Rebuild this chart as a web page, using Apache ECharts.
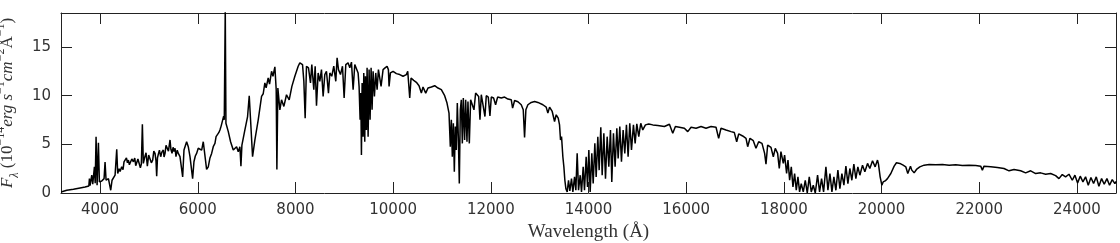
<!DOCTYPE html>
<html>
<head>
<meta charset="utf-8">
<script src="https://cdn.jsdelivr.net/npm/echarts@6/dist/echarts.min.js"></script>
<style>
  html, body { margin: 0; padding: 0; background: #fff; }
  #chart { width: 1120px; height: 243px; }
</style>
</head>
<body>
<div id="chart"></div>
<script>
// spectrum, [wavelength (Å), flux (1e-14 erg/s/cm2/Å)]
const opticalBlue = [
  [3202,0.11],[3318,0.28],[3455,0.38],[3591,0.52],[3693,0.62],[3770,0.72],[3782,1.48],[3795,0.75],
  [3809,0.8],[3830,1.83],[3850,0.9],[3864,0.97],[3884,2.69],[3900,1.0],[3918,5.79],[3939,0.8],
  [3966,5.17],[3986,1.14],[4034,1.24],[4082,1.48],[4102,3.17],[4123,1.31],[4171,1.48],[4218,0.28],
  [4245,1.31],[4307,1.83],[4341,4.49],[4361,2.0],[4390,2.5],[4410,2.2],[4443,2.69],[4470,2.4],
  [4490,3.2],[4511,3.04],[4540,3.6],[4560,3.1],[4580,3.38],[4600,2.9],[4627,2.86],[4650,3.5],
  [4682,3.21],[4710,3.6],[4730,2.8],[4750,2.86],[4775,3.5],[4805,3.38],[4825,2.6],[4845,2.97],
  [4866,7.07],[4886,3.04],[4910,3.6],[4941,4.14],[4968,2.76],[4995,3.9],[5023,3.73],[5050,3.1],
  [5077,3.38],[5100,4.3],[5125,4.07],[5145,3.3],[5159,1.73],[5175,3.6],[5193,4.0],[5215,4.4],
  [5241,3.73],[5265,4.2],[5295,4.42],[5310,3.7],[5330,4.07],[5350,4.9],[5377,4.76],[5400,4.3],
  [5432,5.45],[5450,4.5],[5473,4.07],[5495,4.7],[5514,4.25],[5535,4.6],[5554,3.73],[5580,4.4],
  [5602,4.07]
];
const opticalRed = [
  [5636,3.73],[5691,1.66],[5718,4.42],[5772,5.27],[5806,4.76],[5841,3.73],[5895,1.48],[5922,3.21],
  [5950,3.8],[5977,4.07],[6010,4.6],[6045,4.76],[6080,4.4],[6113,5.27],[6147,5.38],[6181,2.42],
  [6215,2.69],[6250,3.6],[6284,4.07],[6320,4.8],[6352,5.1],[6375,5.8],[6400,5.62],[6430,6.2],
  [6454,6.48],[6480,6.9],[6509,7.0],[6530,7.9],[6543,7.52],[6563,19],[6577,7.17],[6625,6.31],
  [6672,5.27],[6727,4.42],[6795,4.76],[6829,4.25],[6863,4.76],[6884,2.76],[6904,4.93],[6965,6.48],
  [7020,7.86],[7054,9.99],[7081,7.52],[7122,3.73],[7170,5.45],[7238,7.52],[7306,9.93],[7340,10.2],
  [7374,11.31],[7400,10.8],[7442,11.82],[7470,11.2],[7511,12.51],[7540,12.0],[7579,12.96],[7606,10.62],
  [7620,2.42],[7640,10.79],[7681,8.55],[7715,9.58],[7763,8.9],[7817,10.1],[7872,9.58],[7927,10.96],
  [7988,12.0],[8056,13.03]
];
const zBand = [
  [8090,13.38],[8145,13.2],[8172,11.48],[8199,7.69],[8226,13.03],[8267,12.86],[8308,11.31],[8335,13.2],
  [8376,10.62],[8404,13.03],[8431,8.97],[8465,12.34],[8499,11.48],[8533,12.68],[8567,9.93],[8601,12.17],
  [8635,12.51],[8676,10.27],[8704,12.34],[8744,12.0],[8785,13.03],[8826,11.48],[8853,13.9],[8881,12.68],
  [8922,12.17],[8963,13.03],[8997,9.76],[9031,13.2],[9078,13.38],[9113,12.86],[9147,13.45],[9181,10.62],
  [9215,13.2],[9249,13.38],[9283,12.34],[9303,10.96],[9324,7.52],[9338,10.27],[9351,3.9],[9365,11.31],
  [9385,5.79],[9399,12.34],[9419,5.27],[9433,12.0],[9453,6.48],[9467,12.86],[9488,5.79],[9508,12.68],
  [9528,7.52],[9549,12.86],[9569,8.55],[9590,12.51],[9617,9.93],[9644,12.34],[9672,10.62],[9699,12.68],
  [9726,12.86],[9753,10.96],[9794,12.68],[9835,12.86],[9876,13.03],[9903,12.68],[9917,10.96],[9944,12.34],
  [9999,12.51],[10067,12.27],[10135,12.17],[10203,12.0],[10271,12.17],[10299,12.51],[10340,9.76],[10367,11.82],
  [10421,11.58],[10476,11.38],[10530,11.03]
];
const jBand = [
  [10578,10.27],[10612,10.9],[10667,10.27],[10714,10.79],[10783,10.9],[10851,11.03],[10919,10.79],[10987,10.62],
  [11055,10.0],[11103,9.24],[11144,8.21],[11171,4.76],[11192,7.52],[11212,3.73],[11233,7.17],[11253,2.18],
  [11273,6.83],[11294,4.42],[11314,9.24],[11335,5.79],[11355,0.97],[11376,8.55],[11396,9.58],[11417,5.1],
  [11437,9.76],[11464,5.45],[11485,9.58],[11512,5.27],[11532,9.41],[11560,5.1],[11587,9.58],[11621,9.76],
  [11655,8.55],[11689,10.27],[11717,10.45],[11751,9.93],[11778,7.52],[11805,10.1],[11839,9.93],[11880,7.86],
  [11907,10.0],[11948,9.86],[11982,7.93],[12010,9.86],[12057,9.76],[12098,9.07],[12139,9.86],[12214,9.76],
  [12282,9.86],[12350,9.65],[12419,9.58],[12446,8.72],[12487,9.51],[12555,9.38],[12623,9.07],[12664,8.55],
  [12691,5.72],[12718,8.55],[12759,9.07],[12828,9.31],[12896,9.41],[12964,9.31]
];
const hBand = [
  [12998,9.24],[13066,9.07],[13134,8.83],[13168,8.21],[13203,8.83],[13257,8.38],[13305,7.35],[13339,8.04],
  [13380,7.69],[13407,7.0],[13427,5.45],[13448,5.79],[13475,3.73],[13496,2.69],[13516,1.31],[13537,0.45],
  [13564,0.11],[13591,1.31],[13618,0.21],[13652,1.48],[13680,0.11],[13714,1.66],[13741,0.28],[13768,4.07],
  [13796,0.28],[13830,1.83],[13857,0.11],[13891,2.69],[13918,0.28],[13952,3.73],[13980,0.62],[14007,4.42],
  [14034,0.11],[14068,4.07],[14096,0.97],[14130,5.1],[14157,1.66],[14191,5.79],[14218,2.35],[14252,6.76],
  [14280,1.83],[14314,6.14],[14348,1.48],[14382,5.79],[14416,2.69],[14450,6.48],[14477,1.14],[14511,6.14],
  [14545,2.69],[14580,6.66],[14607,3.56],[14641,6.83],[14675,3.21],[14709,6.48],[14743,4.07],[14777,7.0],
  [14811,3.73],[14845,7.17],[14880,4.42],[14920,7.0],[14955,5.1],[14989,7.1],[15029,5.79],[15070,7.17],
  [15111,6.48],[15166,7.0],[15234,7.1],[15316,7.0],[15418,6.93],[15452,7.0],[15554,6.83],[15657,7.07],
  [15725,6.14],[15779,6.83],[15861,6.76],[15963,6.66],[16032,6.31],[16100,6.76],[16202,6.66],[16304,6.83],
  [16406,6.66],[16509,6.83],[16611,6.76],[16665,5.62],[16713,6.66],[16815,6.48],[16918,6.31],[16986,6.21],
  [17034,5.27],[17075,6.07],[17156,5.86],[17225,5.62],[17259,4.76],[17306,5.62],[17374,5.38],[17429,4.59],
  [17484,5.27],[17552,5.1],[17606,4.07],[17634,2.97],[17668,4.93],[17736,4.69],[17784,3.73],[17824,4.59],
  [17872,4.07],[17906,2.52],[17940,4.25],[17988,3.04]
];
const kBand = [
  [18015,3.9],[18056,2.0],[18084,3.38],[18118,1.31],[18152,2.69],[18186,0.62],[18220,2.0],[18254,0.28],
  [18288,1.66],[18322,0.11],[18356,0.97],[18397,0.11],[18438,1.31],[18479,0.0],[18520,1.66],[18561,0.11],
  [18602,0.8],[18643,0.0],[18690,1.83],[18731,0.11],[18772,1.48],[18813,0.11],[18861,2.69],[18902,0.28],
  [18943,2.0],[18984,0.11],[19024,1.66],[19065,0.28],[19106,2.35],[19147,0.45],[19188,2.0],[19229,0.8],
  [19270,2.76],[19311,0.97],[19351,2.52],[19392,1.31],[19433,2.97],[19474,1.48],[19515,2.69],[19556,1.83],
  [19610,2.86],[19658,2.18],[19713,3.04],[19760,2.52],[19815,3.31],[19869,2.69],[19917,3.38],[19937,2.97],
  [19971,1.66],[20006,0.8],[20033,1.14],[20074,1.24],[20121,1.48],[20190,2.0],[20258,2.76],[20305,3.11],
  [20374,3.04],[20442,2.86],[20496,2.69],[20537,2.0],[20565,1.83],[20592,2.76],[20619,2.35],[20667,2.07],
  [20715,2.42],[20783,2.69],[20871,2.86],[20974,2.93],[21110,2.9],[21246,2.93],[21383,2.86],[21519,2.9],
  [21655,2.83],[21792,2.86],[21928,2.83],[22030,2.76],[22064,2.35],[22098,2.76],[22235,2.69],[22371,2.62],
  [22507,2.52],[22610,2.28],[22712,2.42],[22848,2.28],[22950,2.07],[23053,2.28],[23155,2.0],[23257,2.07],
  [23360,1.93],[23462,2.0],[23564,1.79],[23632,1.48],[23700,1.9],[23768,1.66],[23837,1.93],[23905,1.31],
  [23959,1.83],[24014,1.04],[24068,1.73],[24123,1.14],[24177,1.66],[24232,0.8],[24287,1.59],[24341,0.97],
  [24396,1.66],[24450,0.7],[24505,1.48],[24559,0.9],[24614,1.48],[24668,0.8],[24723,1.38],[24777,0.97],
  [24805,1.2]
];

const xTicks = [4000, 6000, 8000, 10000, 12000, 14000, 16000, 18000, 20000, 22000, 24000];
const yTicks = [0, 5, 10, 15];

const spectrum = [].concat(opticalBlue, opticalRed, zBand, jBand, hBand, kBand);

const chart = echarts.init(document.getElementById('chart'));

const frame = { show: true, onZero: false, lineStyle: { color: '#222', width: 1 } };
const tickStyle = { show: true, inside: true, length: 11, lineStyle: { color: '#222', width: 1 } };
const plain = v => String(v);

chart.setOption({
  animation: false,
  grid: { left: 61, right: 4, top: 13, bottom: 50, containLabel: false, outerBoundsMode: 'none' },
  xAxis: [
    {
      type: 'value', min: 3200, max: 24800, position: 'bottom',
      axisLine: frame,
      axisTick: Object.assign({ customValues: xTicks }, tickStyle),
      axisLabel: { customValues: xTicks, formatter: plain, color: '#333', fontSize: 15, fontFamily: 'DejaVu Sans', margin: 10 },
      splitLine: { show: false },
      name: 'Wavelength (Å)', nameLocation: 'middle', nameGap: 29,
      nameTextStyle: { fontFamily: 'Liberation Serif', fontSize: 19, color: '#333' }
    },
    {
      type: 'value', min: 3200, max: 24800, position: 'top',
      axisLine: frame,
      axisTick: Object.assign({ customValues: xTicks }, tickStyle),
      axisLabel: { show: false },
      splitLine: { show: false }
    }
  ],
  yAxis: [
    {
      type: 'value', min: 0, max: 18.5, position: 'left',
      axisLine: frame,
      axisTick: Object.assign({ customValues: yTicks }, tickStyle),
      axisLabel: { customValues: yTicks, formatter: plain, color: '#333', fontSize: 15, fontFamily: 'DejaVu Sans', margin: 10 },
      splitLine: { show: false },
      name: '{i|F}{sub|λ}{r| (10}{sup|−14}{i|erg s}{sup|−1}{i|cm}{sup|−2}{r|Å}{sup|−1}{r|)}',
      nameLocation: 'middle', nameRotate: 90, nameGap: 30,
      nameTextStyle: {
        color: '#333', fontFamily: 'Liberation Serif', fontSize: 17,
        rich: {
          r: { fontFamily: 'Liberation Serif', fontSize: 17, lineHeight: 26, color: '#333' },
          i: { fontFamily: 'Liberation Serif', fontStyle: 'italic', fontSize: 17, lineHeight: 26, color: '#333' },
          sup: { fontFamily: 'Liberation Serif', fontSize: 12, lineHeight: 12, verticalAlign: 'top', color: '#333' },
          sub: { fontFamily: 'Liberation Serif', fontStyle: 'italic', fontSize: 12, lineHeight: 12, verticalAlign: 'bottom', color: '#333' }
        }
      }
    },
    {
      type: 'value', min: 0, max: 18.5, position: 'right',
      axisLine: frame,
      axisTick: Object.assign({ customValues: yTicks }, tickStyle),
      axisLabel: { show: false },
      splitLine: { show: false }
    }
  ],
  series: [
    {
      type: 'line',
      data: spectrum,
      xAxisIndex: 0,
      yAxisIndex: 0,
      showSymbol: false,
      symbol: 'none',
      clip: true,
      lineStyle: { color: '#000', width: 1.5 },
      silent: true
    }
  ]
});
</script>
</body>
</html>
